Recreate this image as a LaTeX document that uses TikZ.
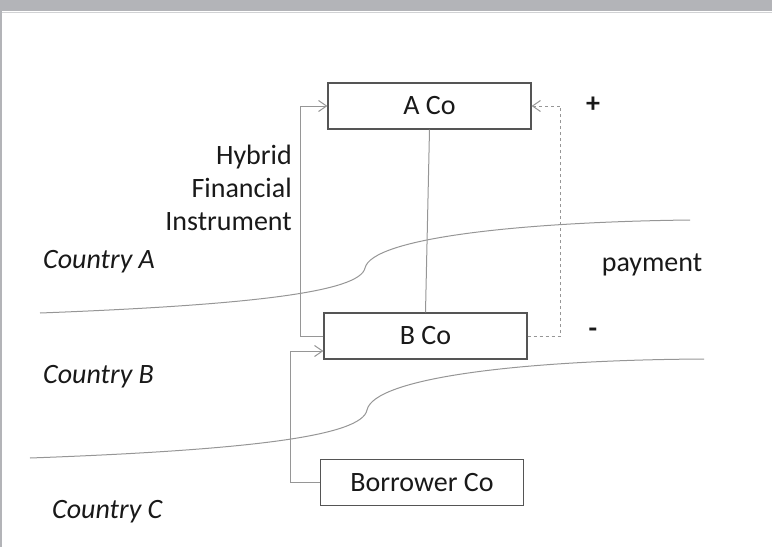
\documentclass[tikz,border=0pt]{standalone}
\usepackage{fontspec}
\setmainfont{Carlito}
\usetikzlibrary{arrows.meta}
\definecolor{boxGray}{RGB}{85,85,85}
\definecolor{lineGray}{RGB}{150,150,150}
\definecolor{bandGray}{RGB}{179,180,184}
\definecolor{textBlack}{RGB}{25,25,25}

\begin{document}
\begin{tikzpicture}[x=1pt, y=-1pt,
    company/.style={rectangle, draw=boxGray, line width=1.2pt, minimum width=203pt, minimum height=46pt, font=\fontsize{28}{33}\selectfont, text=textBlack},
    txt/.style={inner sep=0pt, font=\fontsize{28}{33}\selectfont, text=textBlack},
    country/.style={txt, anchor=west, font=\fontsize{28}{33}\selectfont\itshape},
    conn/.style={draw=lineGray, line width=1pt, -{Straight Barb[length=8pt,width=11pt]}},
    border/.style={draw=lineGray, line width=1pt}
]
\useasboundingbox (0,0) rectangle (772,547);
\fill[bandGray] (0,0) rectangle (772,11);
\draw[bandGray!60, line width=1pt] (0,12) -- (772,12);
\draw[bandGray, line width=1.5pt] (1,11) -- (1,547);

\node[company] (acoo) at (429.5,106) {A Co};
\node[company] (bco) at (425.5,336) {B Co};
\node[company] (borrower) at (422,482.5) {Borrower Co};

\node[txt, anchor=east, align=right] (hfi) at (292,188) {Hybrid\\Financial\\Instrument};
\node[txt] (plus) at (593,105) {\textbf{+}};
\node[txt] (minus) at (593,333) {\textbf{-}};
\node[txt] (pay) at (652,265) {payment};

\node[country] (ctya) at (43,262) {Country A};
\node[country] (ctyb) at (43,377) {Country B};
\node[country] (ctyc) at (52,512) {Country C};

% borders
\draw[border] (40,313) .. controls (250,305) and (360,292) .. (365,268) .. controls (372,238) and (520,222) .. (690,220);
\draw[border] (30,458) .. controls (250,450) and (362,436) .. (367,410) .. controls (374,378) and (520,360) .. (704,359);

\draw[draw=lineGray, line width=1pt] (acoo.south) -- (bco.north);
\draw[conn] (bco.west) -- ++(-23,0) |- (acoo.west);
\draw[conn] (borrower.west) -- ++(-29,0) |- ([yshift=-15pt]bco.west);
\draw[conn, dashed] (bco.east) -- ++(33,0) |- (acoo.east);
\end{tikzpicture}
\end{document}
